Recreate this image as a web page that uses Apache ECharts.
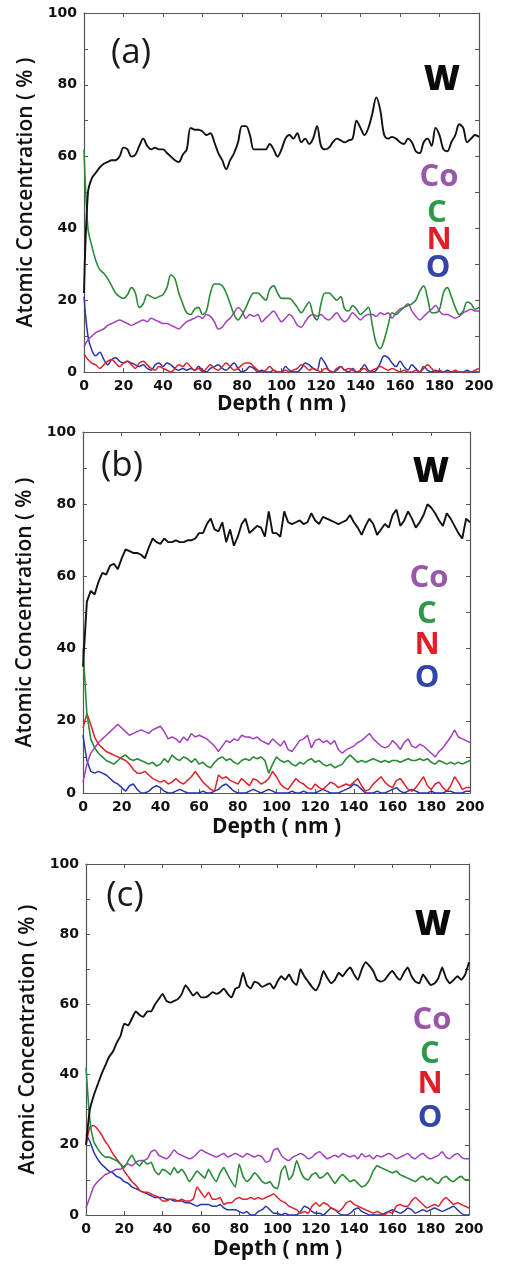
<!DOCTYPE html>
<html>
<head>
<meta charset="utf-8">
<script src="https://cdn.jsdelivr.net/npm/echarts@6/dist/echarts.min.js"></script>
<style>
  html, body { margin: 0; padding: 0; background: #fff; }
  #chart { width: 512px; height: 1264px; }
</style>
</head>
<body>
<div id="chart"></div>
<script>
// Sputter depth (nm) at which each composition point was taken
const depth = [
  0, 2, 4, 6, 8, 10, 12, 14, 16, 18,
  20, 22, 24, 26, 28, 30, 32, 34, 36, 38,
  40, 42, 44, 46, 48, 50, 52, 54, 56, 58,
  60, 62, 64, 66, 68, 70, 72, 74, 76, 78,
  80, 82, 84, 86, 88, 90, 92, 94, 96, 98,
  100, 102, 104, 106, 108, 110, 112, 114, 116, 118,
  120, 122, 124, 126, 128, 130, 132, 134, 136, 138,
  140, 142, 144, 146, 148, 150, 152, 154, 156, 158,
  160, 162, 164, 166, 168, 170, 172, 174, 176, 178,
  180, 182, 184, 186, 188, 190, 192, 194, 196, 198,
  200
];

const xTicks = [0, 20, 40, 60, 80, 100, 120, 140, 160, 180, 200];
const yTicks = [0, 20, 40, 60, 80, 100];
const elements = ['W', 'Co', 'C', 'N', 'O'];
const panelTags = ['(a)', '(b)', '(c)'];

// ---- sample (a) ----
const W_a = [
  22, 50, 54, 55.5, 57, 58, 58.5, 59, 59, 60,
  62.5, 62, 60, 60.5, 63, 65, 63, 62, 62.5, 62,
  62, 61, 60, 59, 58.5, 60.5, 62, 68, 67.5, 67.5,
  67, 66, 66.5, 64, 61, 59, 56.5, 59, 61, 64,
  68.5, 68.5, 66, 62, 62, 62, 62, 63.5, 62, 60,
  62, 65, 66, 65, 66.5, 64, 65, 63.5, 65, 68.5,
  63, 62, 62.5, 64, 65, 64.5, 64, 64.5, 65, 70,
  68, 66, 68, 72, 76.5, 73, 66, 65, 65.5, 65,
  64, 63.5, 65, 64, 61.5, 61, 64, 65, 63, 68,
  66, 62, 61.5, 64, 66, 69, 68, 64, 65, 66,
  65.5
];
const Co_a = [
  7, 9, 10, 11, 11.5, 12, 13, 13.5, 14, 14.5,
  14, 13.5, 13, 13.5, 14, 14.5, 14, 15, 14.5, 14,
  13.5, 13.5, 13, 12.5, 12, 13, 14, 14.5, 15, 15.5,
  15, 16, 15.5, 14, 12, 12.5, 14, 15, 16.5, 18,
  17, 15, 16, 15.5, 16, 14, 15, 16, 17, 15.5,
  14, 15, 16, 15, 13, 12.5, 14, 15.5, 16, 15.5,
  16, 15, 14.5, 15.5, 16.5, 15, 14, 15, 16.5, 15.5,
  14.5, 15.5, 16, 16, 15.5, 16.5, 16, 16.5, 15, 16.5,
  17.5, 18, 19, 17, 15.5, 14.5, 15.5, 16.5, 17.5, 18.5,
  17, 16, 16, 15.5, 15, 15.5, 16.5, 17, 17.5, 17,
  17
];
const C_a = [
  62, 40, 35, 31, 28.5, 27.5, 26, 24, 22, 21,
  20.5, 21.5, 23.5, 22, 18, 19, 21.5, 21, 20.5, 21,
  21.5, 23.5, 27, 26, 22, 19, 16.5, 16, 17.5, 18,
  16, 17, 22, 24.5, 24.5, 24, 22, 19, 16, 14.5,
  16, 18, 20.5, 22, 22, 21, 20, 23, 24, 22,
  20.5, 20.5, 20.5, 19.5, 18, 16.5, 18, 19.5, 16, 14.5,
  19, 22, 22, 21, 20, 21, 17.5, 17, 18.5, 17.5,
  16, 17, 18, 13, 8, 6.5, 9, 13, 16.5, 16,
  17, 18, 18.5, 19, 20, 22.5, 24, 20.5, 16.5, 16.5,
  17.5, 22, 23.5, 21, 18, 16, 17, 19.5, 19, 17.5,
  18
];
const N_a = [
  5, 3.5, 2.5, 2, 1, 2, 3, 3.5, 2.5, 1.5,
  2.5, 3, 2, 1, 2.5, 3, 2, 1, 0.5, 1.5,
  1, 0.5, 0, 1, 2, 1.5, 2.5, 1.5, 0.5, 1,
  0, 1, 2, 1, 0.5, 1.5, 2.5, 1.5, 0.5, 1,
  2, 2.5, 2.5, 1.5, 0.5, 0, 0.5, 1.5, 0.5, 0,
  0, 0.5, 0, 0.5, 1, 2, 1.5, 0.5, 1, 0.5,
  0, 1, 0.5, 0, 1, 1.5, 0.5, 1, 0.5, 0,
  0.5, 1, 0, 0.5, 1, 1.5, 1, 0.5, 1, 0.5,
  0, 0.5, 0, 0, 0.5, 0, 1, 2, 1, 0,
  0.5, 0, 0, 0, 0.5, 0, 0, 0, 0, 0.5,
  1
];
const O_a = [
  21, 10, 6, 4.5, 5.5, 3.5, 2, 3.5, 4, 3,
  2.5, 3, 2.5, 2, 1.5, 2, 1, 0.5, 2, 2.5,
  1.5, 2.5, 2, 1, 0.5, 1, 0.5, 1, 0.5, 1.5,
  0.5, 0, 1, 1.5, 2, 1, 0.5, 1.5, 2.5, 1,
  0, 0.5, 1.5, 1, 0, 0.5, 0, 0, 0.5, 0,
  0, 1.5, 0.5, 0, 0, 1, 2.5, 2, 1, 0.5,
  4, 2.5, 0.5, 0, 0.5, 1.5, 0.5, 0, 1, 0,
  0.5, 2, 0.5, 0, 0.5, 2.5, 4.5, 4, 2.5, 1.5,
  3, 1.5, 0.5, 2, 1, 0, 1.5, 0.5, 0, 0.5,
  0, 0, 0.5, 0, 0, 0, 0, 0.5, 0, 0,
  0
];

// ---- sample (b) ----
const W_b = [
  35, 53, 56, 55, 58.5, 61, 60.5, 63, 63.5, 62,
  65, 67.5, 67, 66.5, 66.5, 66, 65, 68, 70.5, 69.5,
  69, 70.5, 69.5, 69.5, 70, 69.5, 69.5, 70, 70, 70.5,
  72, 72, 74.5, 76, 73, 72.5, 75, 69.5, 73, 68.5,
  71, 74.5, 76, 72, 73, 74, 73.5, 71, 78, 72,
  72, 71, 78, 75, 74.5, 75, 75.5, 74.5, 75, 77.5,
  75.5, 74.5, 76.5, 76, 75.5, 75, 74.5, 75, 75.5, 77,
  75, 73.5, 71.5, 74, 76, 74.5, 71.5, 73, 74.5, 73.5,
  77, 78.5, 74, 75.5, 78, 76, 73.5, 75, 77, 80,
  79, 77.5, 75.5, 74, 77.5, 76, 74, 72, 70.5, 76,
  75
];
const Co_b = [
  3, 8, 11, 12.5, 14, 15, 16, 17, 18, 19,
  18, 17, 16, 16.5, 17, 17.5, 17, 16.5, 17.5, 18,
  18.5, 17, 15, 15.5, 15, 14, 15.5, 14.5, 16.5, 15.5,
  16, 15.5, 15, 14, 13, 11.5, 13, 14.5, 14, 15,
  14.5, 16, 15.5, 15.5, 15, 15.5, 14.5, 14, 13.5, 15,
  14, 13, 14.5, 12, 11.5, 13, 14.5, 15, 16, 12.5,
  14.5, 15, 14, 14.5, 13.5, 14.5, 12, 11, 12, 12.5,
  13, 14, 14.5, 15.5, 16.5, 15, 14, 13, 12.5, 13,
  14.5, 13.5, 12, 14, 15, 13, 12.5, 13.5, 13, 12,
  11, 10, 11.5, 12.5, 14, 15.5, 17.5, 15.5, 15, 14.5,
  14
];
const C_b = [
  40, 22, 15, 12.5, 11, 10, 9, 8.5, 8, 9,
  10, 10.5, 9.5, 9, 9.5, 9, 8.5, 8, 8.5, 7.5,
  8, 9.5, 8.5, 10.5, 9.5, 9, 10, 9.5, 8.5, 9.5,
  8, 8.5, 7.5, 7, 8.5, 9.5, 10, 9, 9.5, 8.5,
  8, 9, 9.5, 9, 10, 9.5, 10, 9, 5.5, 8,
  10, 9, 8.5, 9, 8, 7.5, 8.5, 8, 9, 9.5,
  8.5, 9, 8, 7.5, 8, 7, 7.5, 8, 9.5, 10.5,
  9.5, 8.5, 9, 8.5, 9, 9.5, 9, 8.5, 9, 8.5,
  9, 9, 8.5, 9, 9.5, 9, 9, 9.5, 9, 9.5,
  8.5, 8, 9, 8.5, 8, 8.5, 8, 8.5, 8, 8.5,
  9
];
const N_b = [
  18, 22, 19, 15.5, 13.5, 12.5, 11.5, 11, 10.5, 10,
  9.5, 9, 8, 6.5, 5.5, 5.5, 6, 5, 4, 3.5,
  3, 3.5, 2.5, 3, 4, 3, 2.5, 3.5, 4.5, 6,
  4.5, 3, 2, 1, 0.5, 5, 4, 4.5, 3.5, 3,
  2.5, 4, 3, 2, 4, 3.5, 2.5, 3, 4, 6,
  4.5, 2.5, 1.5, 1, 2.5, 4, 3, 2.5, 1.5, 1,
  2.5, 1.5, 1, 2, 3, 2.5, 1.5, 2, 2.5, 2,
  3, 4, 2, 0.5, 1, 2.5, 3.5, 4.5, 3, 2,
  1.5, 3.5, 4, 2.5, 1, 0.5, 1.5, 3, 4.5, 2,
  1, 2.5, 3, 1.5, 0.5, 2, 4.5, 3, 1, 1.5,
  1.5
];
const O_b = [
  16, 9, 6, 5.5, 6, 5.5, 5, 4, 3, 2.5,
  1.5, 0.5, 2, 2.5, 1, 0, 0, 0.5, 1.5, 2,
  1.5, 0.5, 0, 0, 0.5, 1, 0.5, 0, 0, 0,
  0, 0.5, 0, 0, 0.5, 1, 2, 2.5, 1.5, 0.5,
  0, 0, 0, 0.5, 1, 0.5, 0, 0.5, 1, 0.5,
  0, 0, 0, 0, 0.5, 0, 0, 0.5, 0, 0,
  0, 0.5, 1, 0.5, 0, 0, 0, 0.5, 1, 1.5,
  2.5, 2, 1, 0, 0, 0, 0.5, 0, 0, 0.5,
  1, 1.5, 0.5, 0, 0.5, 1, 0.5, 0, 0, 0,
  0.5, 0, 0, 0, 0.5, 0.5, 0, 0, 0, 0.5,
  0.5
];

// ---- sample (c) ----
const W_c = [
  20, 30, 34, 37, 40, 42.5, 45, 46.5, 49, 51,
  54.5, 54, 56, 58, 57, 56.5, 58, 58, 60, 61.5,
  63, 61, 60.5, 61, 61.5, 63, 65.5, 64, 62.5, 63.5,
  62, 62, 62.5, 63.5, 63, 63.5, 64.5, 63, 62, 64.5,
  65, 69, 65.5, 64.5, 66.5, 66, 65, 65.5, 66, 64.5,
  66.5, 68, 67, 68.5, 66.5, 65.5, 70, 68, 66.5, 65,
  64, 66, 69.5, 67.5, 66, 67, 69, 68, 69.5, 70.5,
  68.5, 67, 70, 72, 71, 69.5, 67, 66.5, 67, 68.5,
  69.5, 68, 67, 69, 70.5, 68, 66.5, 66, 68.5, 67,
  65.5, 66, 67.5, 70.5, 67.5, 66, 67, 68, 67, 68.5,
  72
];
const Co_c = [
  2, 5, 8, 9.5, 10.5, 11.5, 12, 12.5, 13, 13,
  14, 14.5, 14, 15, 15.5, 15.5, 16, 18, 18.5, 17,
  16.5, 16, 17, 18.5, 17.5, 17, 16.5, 16, 16.5, 17.5,
  18.5, 18, 17.5, 17, 16.5, 17, 17.5, 16.5, 17, 17.5,
  17, 16.5, 17.5, 17, 16.5, 17, 16.5, 15, 15.5, 18.5,
  19, 17, 16, 15.5, 16.5, 17, 17.5, 17, 16, 16.5,
  17.5, 18, 17, 16, 16.5, 17, 16.5, 17.5, 17, 16.5,
  17, 16, 17.5, 16.5, 17, 16, 17, 16.5, 17, 17.5,
  17, 16, 16.5, 17, 17.5, 16.5, 16, 17, 17.5, 16.5,
  16, 16.5, 17, 18, 16.5, 16, 17, 17.5, 16.5, 16,
  16
];
const C_c = [
  42, 27, 21, 19, 17.5, 16.5, 16.5, 16, 15.5, 14.5,
  13.5, 15.5, 17, 15, 14, 15.5, 14.5, 15, 12.5, 11.5,
  13, 12.5, 11.5, 13.5, 12, 13, 11.5, 9.5, 11, 12.5,
  11.5, 10.5, 13, 11, 9.5, 12, 13.5, 11.5, 9.5, 8,
  14.5, 11, 9.5, 10.5, 12, 11, 9.5, 9, 9.5, 8,
  7.5, 12.5, 14, 10, 11.5, 15.5, 12.5, 10.5, 10, 11.5,
  12, 10.5, 11, 12, 10.5, 9, 10.5, 11.5, 10.5, 9.5,
  10, 9, 8, 8.5, 10, 12.5, 14, 13.5, 13, 12.5,
  12, 12.5, 11.5, 11, 10.5, 10, 9.5, 10.5, 11, 10,
  10.5, 9.5, 9, 10.5, 11, 10, 9.5, 10.5, 11, 10,
  10
];
const N_c = [
  20, 25, 25.5, 24.5, 23, 21, 19.5, 17.5, 16, 14.5,
  12.5, 11, 9.5, 8.5, 7, 6.5, 6.5, 6, 5.5, 5,
  4, 4, 4.5, 4.5, 4, 4.5, 4, 4, 4.5, 8,
  6.5, 5, 6.5, 4.5, 4.5, 5, 3, 3.5, 3.5, 4.5,
  5, 4.5, 4.5, 5, 4.5, 5, 4.5, 5, 5.5, 6,
  5, 4, 3.5, 2.5, 2, 1.5, 0.5, 1, 0.5, 2.5,
  3.5, 2.5, 3.5, 3, 2, 1.5, 1, 2, 3.5, 4,
  3, 2.5, 2, 1.5, 1, 0.5, 1, 0.5, 0, 1,
  0.5, 2.5, 3, 2.5, 2.5, 4, 5, 4, 3, 2,
  2.5, 3, 2.5, 4, 5, 4, 3, 3.5, 3, 2.5,
  2
];
const O_c = [
  23, 21, 18, 16, 14.5, 13.5, 12.5, 12, 11, 10.5,
  9.5, 9, 8, 7.5, 7, 6.5, 6, 5.5, 5, 5,
  5, 4.5, 4.5, 4, 4, 4, 3.5, 3.5, 3, 2.5,
  3, 3, 3, 2.5, 2.5, 3, 2, 1.5, 1.5, 1.5,
  1, 0.5, 1, 0, 0, 1, 1.5, 2.5, 1.5, 0.5,
  0.5, 0, 0.5, 0, 0, 0, 1, 2.5, 2, 1,
  0.5, 0.5, 0, 1, 2, 1.5, 0.5, 0, 0, 0.5,
  1.5, 2, 1, 0.5, 0, 0, 0, 0, 0.5, 1,
  1.5, 1, 0.5, 1, 2, 1.5, 0.5, 1, 1.5, 1,
  1.5, 2, 1.5, 1, 1.5, 2, 2.5, 1.5, 0.5, 0,
  0
];

const panelData = [
  [W_a, Co_a, C_a, N_a, O_a],
  [W_b, Co_b, C_b, N_b, O_b],
  [W_c, Co_c, C_c, N_c, O_c]
];

// ---- styling ----
const lineColors = { W: '#111111', Co: '#a23fbf', C: '#2a8a38', N: '#dc2228', O: '#2536a8' };
const textColors = { W: '#0a0a0a', Co: '#9a57aa', C: '#2e9a48', N: '#e01e28', O: '#3344aa' };
const lineWidths = { W: 1.9, Co: 1.5, C: 1.6, N: 1.5, O: 1.5 };
const frame = '#555';

// plot rectangles for the three stacked panels
const boxes = [
  { left: 84, top: 13, right: 479, bottom: 372 },
  { left: 83, top: 432, right: 470, bottom: 793 },
  { left: 86, top: 864, right: 469, bottom: 1215 }
];
const xNameGap = [21, 24, 24];
const yNameGap = [40, 40, 41];
const smoothness = [0.35, 0, 0.15];

// label placements inside each panel
const tagPos = [[131, 53], [122, 466], [125, 896]];
const keyPos = [
  { W: [442, 80], Co: [439, 177], C: [437, 213], N: [439, 240], O: [438, 268] },
  { W: [431, 472], Co: [429, 578], C: [427, 614], N: [427, 645], O: [427, 678] },
  { W: [433, 925], Co: [432, 1020], C: [430, 1054], N: [430, 1084], O: [430, 1118] }
];

const grids = [], xAxes = [], yAxes = [], series = [], graphics = [];

boxes.forEach((b, i) => {
  grids.push({ left: b.left, top: b.top, width: b.right - b.left, height: b.bottom - b.top });

  const tickStyle = { show: true, inside: true, length: 4, lineStyle: { color: frame, width: 1 } };
  const lineStyle = { show: true, onZero: false, lineStyle: { color: frame, width: 1.2 } };

  xAxes.push({
    gridIndex: i, type: 'value', position: 'bottom',
    min: xTicks[0], max: xTicks[xTicks.length - 1], interval: xTicks[1] - xTicks[0],
    axisLine: lineStyle, axisTick: tickStyle, splitLine: { show: false },
    axisLabel: { margin: 7, color: '#111', fontFamily: 'DejaVu Sans', fontWeight: 'bold', fontSize: 14 },
    name: 'Depth ( nm )', nameLocation: 'middle', nameGap: xNameGap[i],
    nameTextStyle: { color: '#111', fontFamily: 'Open Sans', fontWeight: 'bold', fontSize: 21 }
  });
  xAxes.push({
    gridIndex: i, type: 'value', position: 'top',
    min: xTicks[0], max: xTicks[xTicks.length - 1], interval: xTicks[1] - xTicks[0],
    axisLine: lineStyle, axisTick: tickStyle, axisLabel: { show: false }, splitLine: { show: false }
  });

  yAxes.push({
    gridIndex: i, type: 'value', position: 'left',
    min: yTicks[0], max: yTicks[yTicks.length - 1], interval: 10,
    axisLine: lineStyle, axisTick: tickStyle, splitLine: { show: false },
    axisLabel: {
      margin: 7, color: '#111', fontFamily: 'DejaVu Sans', fontWeight: 'bold', fontSize: 14,
      formatter: v => (yTicks.indexOf(v) >= 0 ? String(v) : '')
    },
    name: 'Atomic Concentration ( % )', nameLocation: 'middle', nameGap: yNameGap[i], nameRotate: 90,
    nameTextStyle: { color: '#111', fontFamily: 'Open Sans', fontWeight: 600, fontSize: 21 }
  });
  yAxes.push({
    gridIndex: i, type: 'value', position: 'right',
    min: yTicks[0], max: yTicks[yTicks.length - 1], interval: 10,
    axisLine: lineStyle, axisTick: tickStyle, axisLabel: { show: false }, splitLine: { show: false }
  });

  // draw the minor species first so the W profile stays on top
  const order = [4, 3, 1, 2, 0];
  order.forEach(k => {
    const el = elements[k];
    const vals = panelData[i][k];
    series.push({
      name: el + ' ' + panelTags[i], type: 'line',
      xAxisIndex: 2 * i, yAxisIndex: 2 * i,
      data: depth.map((d, j) => [d, vals[j]]),
      showSymbol: false, smooth: smoothness[i],
      lineStyle: { color: lineColors[el], width: lineWidths[el] },
      itemStyle: { color: lineColors[el] },
      animation: false, silent: true
    });
  });

  graphics.push({
    type: 'text', x: tagPos[i][0], y: tagPos[i][1], z: 10,
    style: {
      text: panelTags[i], fill: '#1a1a1a', font: '35px "Open Sans"',
      textAlign: 'center', textVerticalAlign: 'middle', align: 'center', verticalAlign: 'middle'
    }
  });
  elements.forEach(el => {
    const p = keyPos[i][el];
    graphics.push({
      type: 'text', x: p[0], y: p[1], z: 10,
      style: {
        text: el, fill: textColors[el],
        font: (el === 'W' ? '800 35px' : 'bold 31px') + ' "Open Sans"',
        textAlign: 'center', textVerticalAlign: 'middle', align: 'center', verticalAlign: 'middle'
      }
    });
  });
});

// the second panel sits slightly over the foot of the first one's axis title
graphics.push({
  type: 'rect', z: 100,
  shape: { x: 150, y: 412, width: 260, height: 16 },
  style: { fill: '#ffffff' }
});

const chart = echarts.init(document.getElementById('chart'), null, { renderer: 'canvas' });
chart.setOption({
  backgroundColor: '#ffffff',
  animation: false,
  grid: grids,
  xAxis: xAxes,
  yAxis: yAxes,
  series: series,
  graphic: graphics
});
</script>
</body>
</html>
